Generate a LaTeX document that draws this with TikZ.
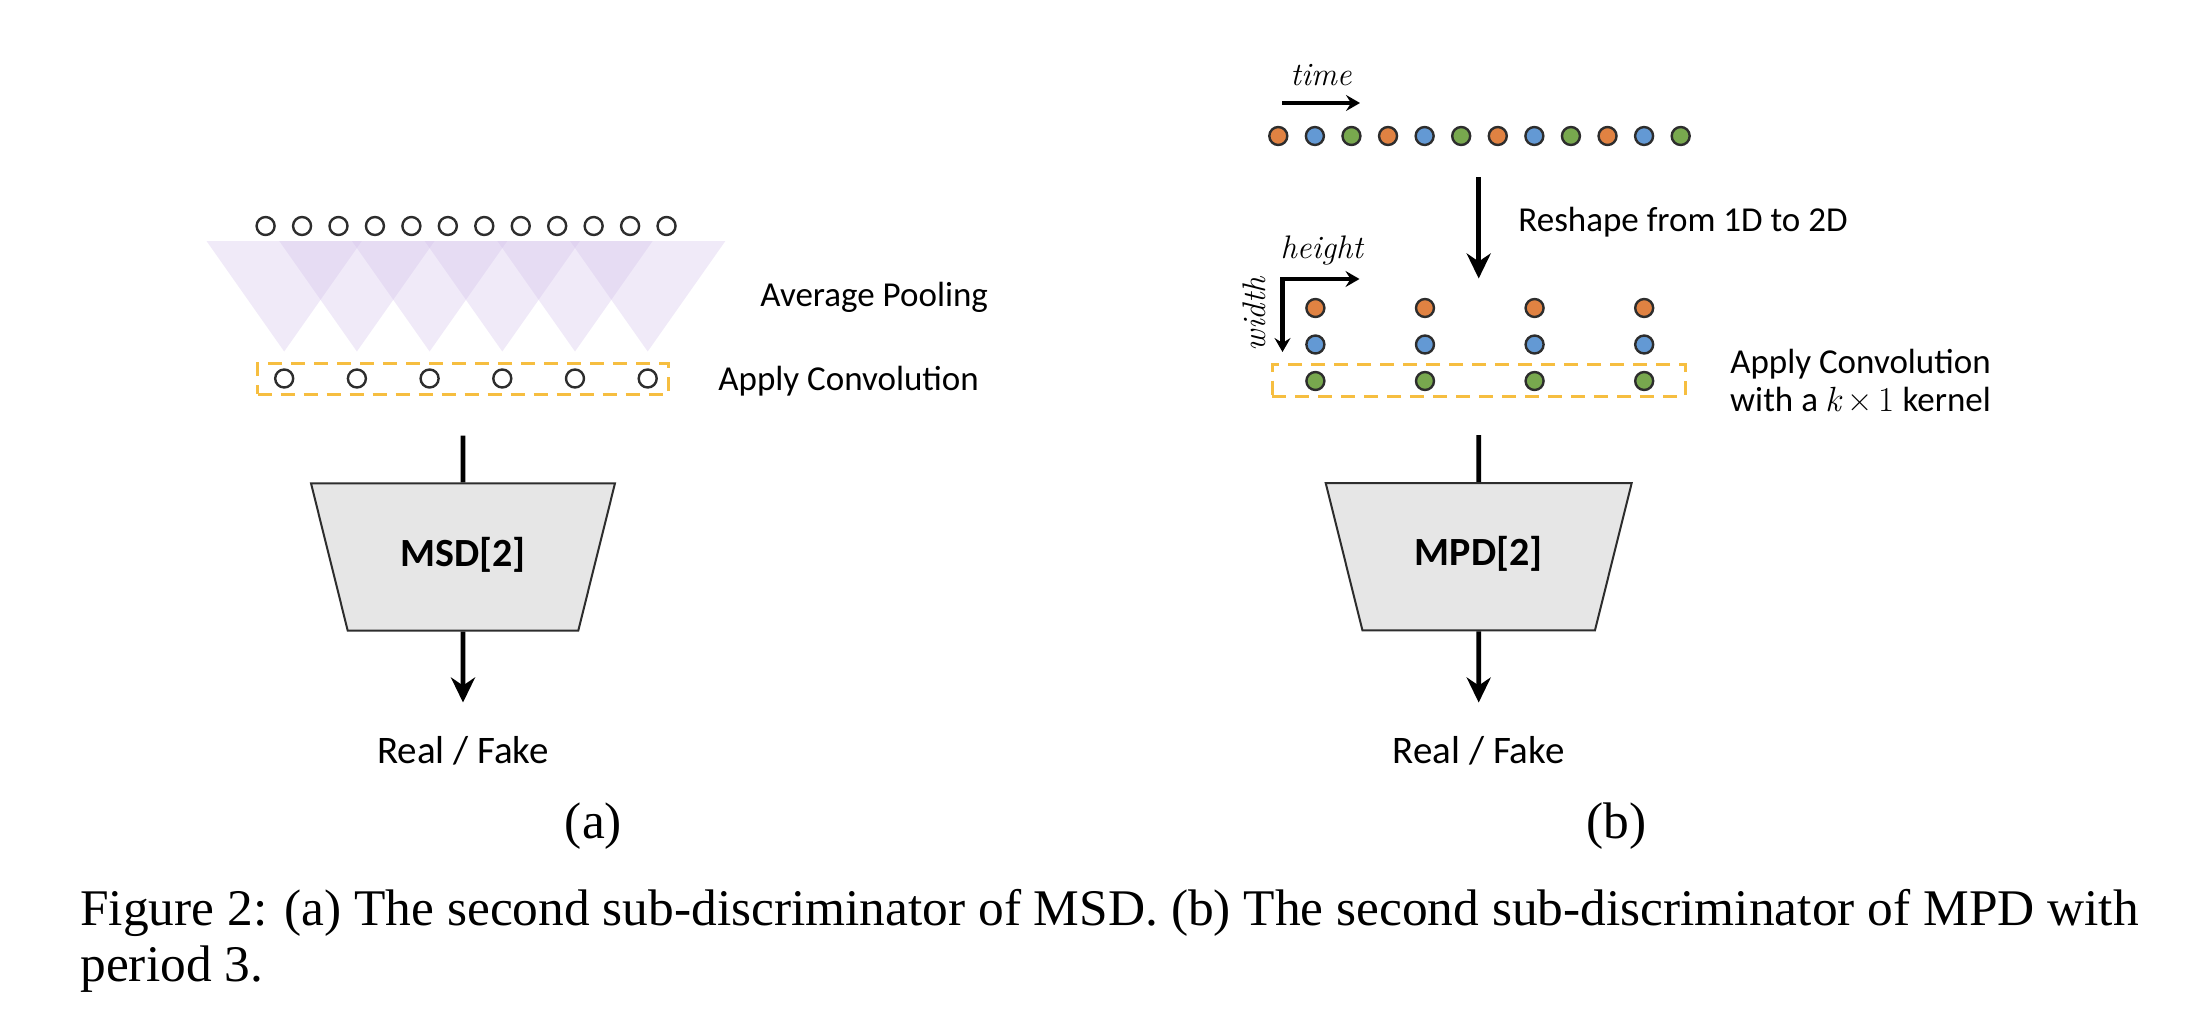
\documentclass[tikz,border=0pt]{standalone}
\usepackage{fontspec}
\setmainfont{Carlito}
\newfontfamily\lmfont{Latin Modern Roman}
\newfontfamily\captionfont{Liberation Serif}
\usetikzlibrary{arrows.meta}
\usetikzlibrary{positioning}
\usetikzlibrary{shapes.geometric}

\definecolor{ringgray}{RGB}{45,45,45}
\definecolor{dotorange}{RGB}{224,130,66}
\definecolor{dotblue}{RGB}{99,153,212}
\definecolor{dotgreen}{RGB}{120,168,78}
\definecolor{kernelgold}{RGB}{246,190,64}
\definecolor{poolviolet}{RGB}{210,192,234}
\definecolor{discgray}{RGB}{230,230,230}

\tikzset{
    sample/.style={circle, draw=ringgray, line width=1.2pt, fill=white,
        minimum size=9pt, inner sep=0pt},
    kernelbox/.style={draw=kernelgold, line width=1.5pt,
        dash pattern=on 7pt off 4.5pt, inner sep=0pt},
    disc/.style={trapezium, shape border rotate=180, trapezium angle=76,
        trapezium stretches body, draw=ringgray, line width=1pt,
        fill=discgray, inner xsep=0pt, inner ysep=27.35pt,
        text height=14pt, text depth=5pt,
        font=\fontsize{20}{24}\selectfont\bfseries},
    note/.style={inner sep=0pt, font=\fontsize{17.5}{21}\selectfont},
    axisnote/.style={inner sep=0pt, font=\fontsize{16.3}{19}\selectfont},
    outnote/.style={inner sep=0pt, font=\fontsize{19.5}{23}\selectfont},
    capnote/.style={inner sep=0pt, font=\captionfont\fontsize{25.7}{30}\selectfont},
    bigtip/.tip={Stealth[length=12.5pt, width=12pt, inset=4pt]},
    smalltip/.tip={Stealth[length=7pt, width=8pt, inset=2.5pt]},
    stem/.style={line width=2.3pt},
    flowarrow/.style={line width=2.3pt, -bigtip},
    axisarrow/.style={line width=2.1pt, -smalltip},
}

\begin{document}
\begin{tikzpicture}[x=0.5pt, y=-0.5pt]
    \useasboundingbox (0,0) rectangle (2202,1028);

    % (a) Pooling windows
    \foreach \i in {0,...,5} {
        \path [fill=poolviolet, fill opacity=0.33]
            ({206.5+72.7*\i},241) -- ({361.9+72.7*\i},241) --
            ({284.2+72.7*\i},351.5) -- cycle;
    }

    % (a) Raw and pooled samples
    \foreach \i in {1,...,12}
        \node [sample] (raw\i) at ({265.6+36.45*(\i-1)},226) {};
    \foreach \i in {1,...,6}
        \node [sample] (pool\i) at ({284.2+72.7*(\i-1)},378.5) {};
    \node [kernelbox, minimum width=205.4pt, minimum height=15.3pt]
        (convA) at (463,378.8) {};

    % (a) Labels
    \node [note, anchor=base west] (poolnote) at (760,306.7) {Average Pooling};
    \node [note, anchor=base west] (convnoteA) at (718,390) {Apply Convolution};

    % (a) Discriminator
    \node [disc, minimum width=152pt] (msd) at (463,557) {MSD[2]};
    \draw [stem] ([yshift=-20pt]convA.south) -- (msd.north);
    \node [outnote, anchor=base] (rfA) at (463,763) {Real / Fake};
    \draw [flowarrow, shorten >=16.5pt] (msd.south) -- (rfA.north);
    \node [capnote, anchor=base] (capA) at (593.5,838) {(a)};

    % (b) Time axis and 1D sequence
    \node [axisnote, anchor=base] (timenote) at (1321,85) {\lmfont\itshape time};
    \coordinate (timeS) at (1282,103);
    \coordinate (timeE) at (1360,103);
    \draw [axisarrow] (timeS) -- (timeE);
    \foreach \p in {0,...,3}
        \foreach \col [count=\r] in {dotorange,dotblue,dotgreen}
            \node [sample, fill=\col] (seq-\p-\r)
                at ({1278.3+36.58*(3*\p+\r-1)},136) {};

    % (b) Reshape
    \coordinate (reshapeS) at (1478.7,177);
    \coordinate (reshapeE) at (1478.7,278.5);
    \draw [flowarrow] (reshapeS) -- (reshapeE);
    \node [note, anchor=base west] (reshapenote) at (1518,231.7)
        {Reshape from 1D to 2D};

    % (b) Height and width axes
    \coordinate (corner) at (1282.5,279);
    \coordinate (heightE) at (1359.5,279);
    \coordinate (widthE) at (1282.5,352);
    \draw [axisarrow, smalltip-smalltip] (heightE) -- (corner) -- (widthE);
    \node [axisnote, anchor=base] (heightnote) at (1321.8,258)
        {\lmfont\itshape height};
    \node [axisnote, anchor=base, rotate=90] (widthnote) at (1265,314)
        {\lmfont\itshape width};

    % (b) 2D grid
    \foreach \p in {0,...,3}
        \foreach \col [count=\r] in {dotorange,dotblue,dotgreen}
            \node [sample, fill=\col] (grid-\p-\r)
                at ({1315.4+109.6*\p},{271.5+36.5*\r}) {};
    \node [kernelbox, minimum width=206.3pt, minimum height=16.2pt]
        (convB) at (1478.7,380.3) {};
    \node [note, anchor=base] (convnoteB) at (1860.5,373.3) {Apply Convolution};
    \node [note, anchor=base] (kernelnote) at (1860.5,411.7)
        {with a {\lmfont\itshape k}\,{\lmfont×}\,{\lmfont 1} kernel};

    % (b) Discriminator
    \node [disc, minimum width=153pt] (mpd) at (1478.7,556.7) {MPD[2]};
    \draw [stem] ([yshift=-18.5pt]convB.south) -- (mpd.north);
    \node [outnote, anchor=base] (rfB) at (1478.7,763) {Real / Fake};
    \draw [flowarrow, shorten >=16.5pt] (mpd.south) -- (rfB.north);
    \node [capnote, anchor=base] (capB) at (1616.4,838) {(b)};

    % Figure caption
    \node [capnote, anchor=base west] (capline1) at (80,925)
        {Figure 2: (a) The second sub-discriminator of MSD. (b) The second sub-discriminator of MPD with};
    \node [capnote, anchor=base west] (capline2) at (80,981) {period 3.};
\end{tikzpicture}
\end{document}
